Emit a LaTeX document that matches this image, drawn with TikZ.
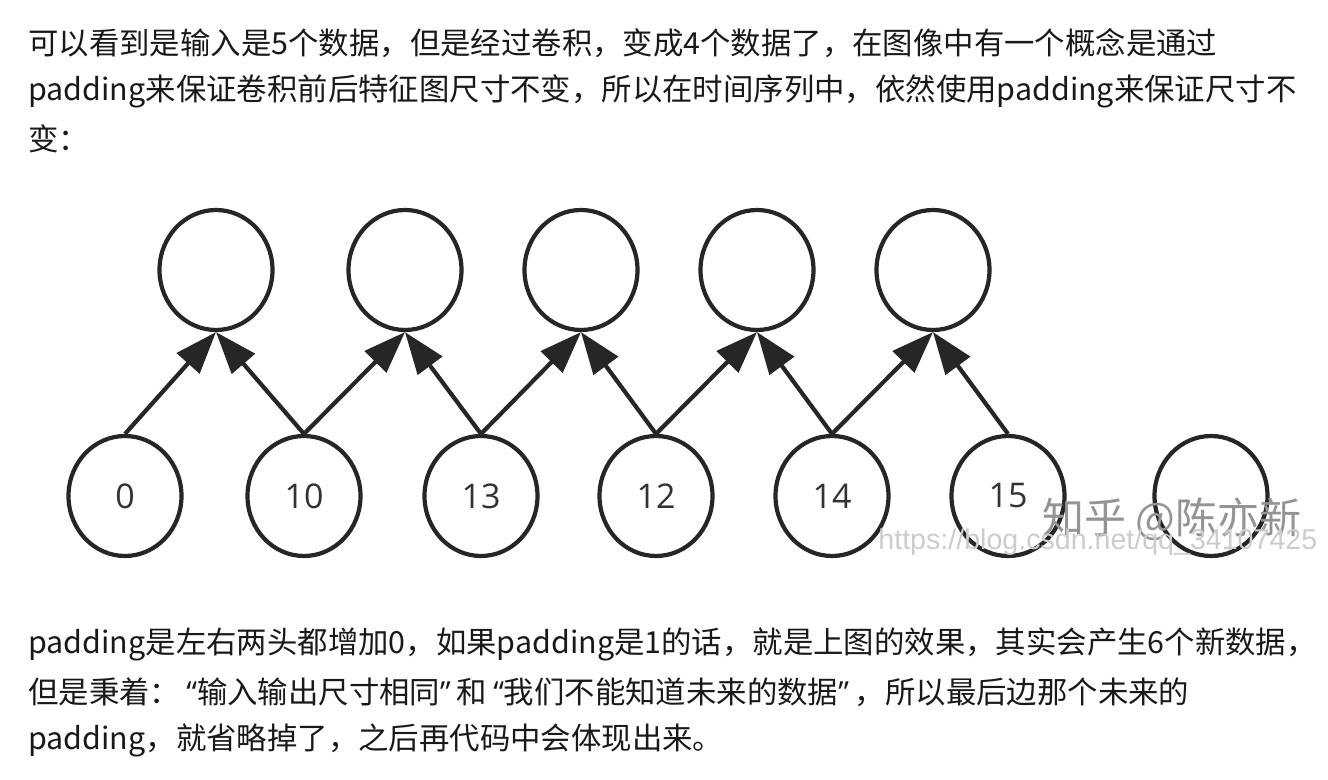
\documentclass[tikz,border=0pt]{standalone}
\usepackage{fontspec}
\setmainfont{Noto Sans CJK SC}
\newfontfamily\numfont{Open Sans}
\newfontfamily\urlfont{Liberation Sans}
\usetikzlibrary{arrows.meta,shapes.geometric}

% aspas estreitas
\newcommand{\abre}{\hspace{3pt}{\numfont “}}
\newcommand{\fecha}{{\numfont ”}\hspace{3pt}}

\tikzset{
	celula/.style={draw=black!85, line width=2.1pt, ellipse, inner sep=0pt,
		minimum width=56.5pt, minimum height=60pt, font=\numfont\fontsize{17}{17}\selectfont, text=black!80},
	seta/.style={-{Triangle[length=21pt,width=15pt]}, line width=2.1pt, draw=black!85},
	linha/.style={anchor=west, inner sep=0pt, font=\fontsize{15.2}{15.2}\selectfont, text=black!90}
}

\begin{document}
\begin{tikzpicture}[x=0.5pt, y=-0.5pt]
	\useasboundingbox (0,0) rectangle (1328,780);

	% Texto de cima
	\node[linha] (t1) at (28,43)  {可以看到是输入是5个数据，但是经过卷积，变成4个数据了，在图像中有一个概念是通过};
	\node[linha] (t2) at (28,91)  {padding来保证卷积前后特征图尺寸不变，所以在时间序列中，依然使用padding来保证尺寸不};
	\node[linha] (t3) at (28,139) {变：};

	% Camada de saída
	\node[celula] (s1) at (216,270) {};
	\node[celula] (s2) at (405,270) {};
	\node[celula] (s3) at (581,270) {};
	\node[celula] (s4) at (757,270) {};
	\node[celula] (s5) at (933,270) {};

	% Camada de entrada
	\node[celula] (e0) at (125,496)  {0};
	\node[celula] (e1) at (304,496)  {10};
	\node[celula] (e2) at (481,496)  {13};
	\node[celula] (e3) at (656,496)  {12};
	\node[celula] (e4) at (832,496)  {14};
	\node[celula] (e5) at (1008,496) {15};
	\node[celula] (e6) at (1211,496) {};

	% Setas
	\draw[seta] (e0.north) to (s1.south);
	\draw[seta] (e1.north) to (s1.south);
	\draw[seta] (e1.north) to (s2.south);
	\draw[seta] (e2.north) to (s2.south);
	\draw[seta] (e2.north) to (s3.south);
	\draw[seta] (e3.north) to (s3.south);
	\draw[seta] (e3.north) to (s4.south);
	\draw[seta] (e4.north) to (s4.south);
	\draw[seta] (e4.north) to (s5.south);
	\draw[seta] (e5.north) to (s5.south);

	% Marca d'água
	\node[anchor=west, inner sep=0pt, text=black!42, font=\fontsize{21}{21}\selectfont] (m1) at (1042,519) {知乎 @陈亦新};
	\node[anchor=west, inner sep=0pt, text=black!20, font=\urlfont\fontsize{14.3}{14.3}\selectfont] (m2) at (878,542) {https://blog.csdn.net/qq\_34107425};

	% Texto de baixo
	\node[linha] (b1) at (28,644) {padding是左右两头都增加0，如果padding是1的话，就是上图的效果，其实会产生6个新数据，};
	\node[linha] (b2) at (28,692) {但是秉着：\abre 输入输出尺寸相同\fecha 和\abre 我们不能知道未来的数据\fecha ，所以最后边那个未来的};
	\node[linha] (b3) at (28,740) {padding，就省略掉了，之后再代码中会体现出来。};
\end{tikzpicture}
\end{document}
